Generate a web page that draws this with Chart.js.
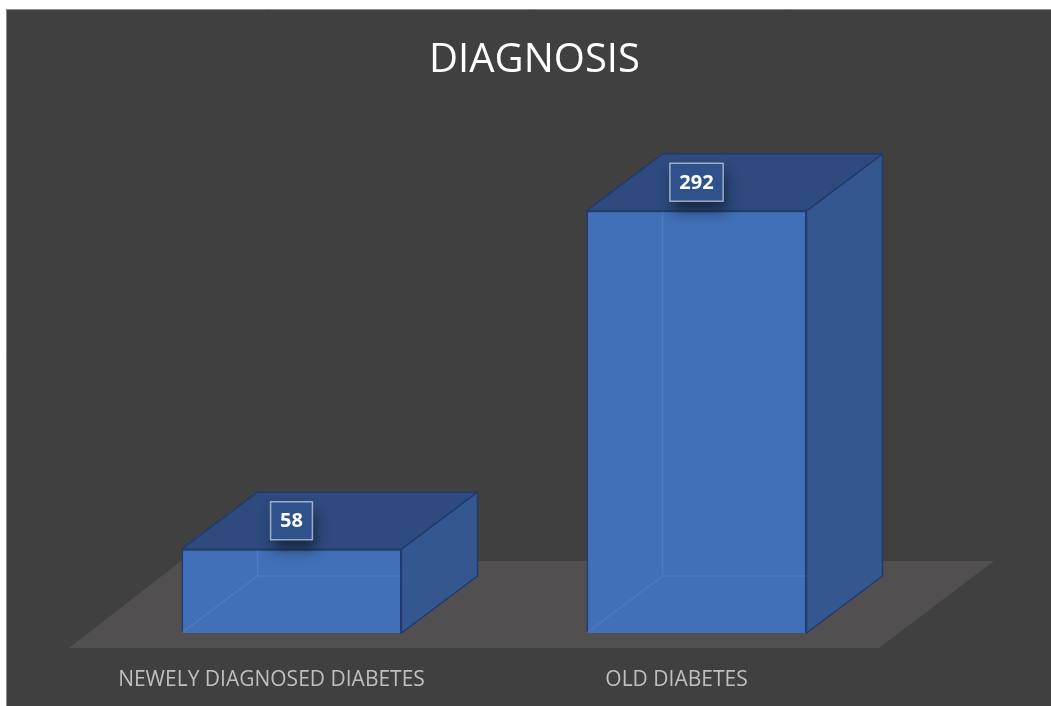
<!DOCTYPE html>
<html>
<head>
<meta charset="utf-8">
<script src="https://cdn.jsdelivr.net/npm/chart.js@4.4.1/dist/chart.umd.min.js"></script>
<style>
  html, body { margin: 0; padding: 0; background: #ffffff; }
  #wrap { width: 1051px; height: 706px; }
</style>
</head>
<body>
<div id="wrap"><canvas id="chart" width="1051" height="706"></canvas></div>
<script>
// data
const categories = ["NEWELY DIAGNOSED DIABETES", "OLD DIABETES"];
const counts = [58, 292];
const chartTitle = "DIAGNOSIS";

// 3d look (pixels)
const DEPTH = { x: 76, y: -57 };   // box depth
const SHIFT = { x: 20, y: -15 };   // boxes sit a bit behind the floor front edge
const FLOOR = { x: 113, y: -87 };  // floor depth

const threeD = {
  id: "threeD",
  beforeDraw(chart) {
    const ctx = chart.ctx;
    ctx.save();
    ctx.fillStyle = "#ffffff";
    ctx.fillRect(0, 0, chart.width, chart.height);
    ctx.fillStyle = "#404040";
    ctx.fillRect(6, 9, chart.width - 6, chart.height - 9);
    ctx.strokeStyle = "#8c8c8c";
    ctx.lineWidth = 1;
    ctx.beginPath();
    ctx.moveTo(6.5, chart.height);
    ctx.lineTo(6.5, 9.5);
    ctx.lineTo(chart.width, 9.5);
    ctx.stroke();
    ctx.restore();
  },
  beforeDatasetsDraw(chart) {
    const ctx = chart.ctx;
    const a = chart.chartArea;
    // floor
    ctx.save();
    ctx.fillStyle = "#514f4f";
    ctx.beginPath();
    ctx.moveTo(a.left, a.bottom);
    ctx.lineTo(a.right, a.bottom);
    ctx.lineTo(a.right + FLOOR.x + 2, a.bottom + FLOOR.y);
    ctx.lineTo(a.left + FLOOR.x - 1, a.bottom + FLOOR.y);
    ctx.closePath();
    ctx.fill();
    ctx.restore();
    ctx.save();
    ctx.translate(SHIFT.x, SHIFT.y);
  },
  afterDatasetsDraw(chart) {
    const ctx = chart.ctx;
    const meta = chart.getDatasetMeta(0);
    meta.data.forEach((bar, i) => {
      const l = bar.x - bar.width / 2, r = bar.x + bar.width / 2;
      const t = bar.y, b = bar.base;
      const dx = DEPTH.x, dy = DEPTH.y;

      // hidden edges seen through the front
      ctx.strokeStyle = "rgba(110,150,215,0.25)";
      ctx.lineWidth = 1.5;
      ctx.beginPath();
      ctx.moveTo(l, b);
      ctx.lineTo(l + dx, b + dy);
      ctx.lineTo(r, b + dy);
      ctx.moveTo(l + dx, b + dy);
      ctx.lineTo(l + dx, t);
      ctx.stroke();

      ctx.strokeStyle = "#203c6e";
      ctx.lineWidth = 1.5;
      ctx.lineJoin = "round";
      // side face
      ctx.fillStyle = "#35578f";
      ctx.beginPath();
      ctx.moveTo(r, t);
      ctx.lineTo(r + dx, t + dy);
      ctx.lineTo(r + dx, b + dy);
      ctx.lineTo(r, b);
      ctx.closePath();
      ctx.fill();
      ctx.stroke();
      // top face
      ctx.fillStyle = "#2e4a7e";
      ctx.beginPath();
      ctx.moveTo(l, t);
      ctx.lineTo(r, t);
      ctx.lineTo(r + dx, t + dy);
      ctx.lineTo(l + dx, t + dy);
      ctx.closePath();
      ctx.fill();
      ctx.stroke();

      // value label
      const txt = String(counts[i]);
      ctx.font = "bold 20px 'Open Sans'";
      const w = ctx.measureText(txt).width + 19;
      const h = 38;
      const cx = bar.x, cy = t + dy / 2;
      ctx.save();
      ctx.shadowColor = "rgba(0,0,0,0.45)";
      ctx.shadowBlur = 14;
      ctx.shadowOffsetX = 3;
      ctx.shadowOffsetY = 10;
      ctx.fillStyle = "#30528c";
      ctx.fillRect(cx - w / 2, cy - h / 2, w, h);
      ctx.restore();
      ctx.strokeStyle = "rgba(255,255,255,0.55)";
      ctx.lineWidth = 1.5;
      ctx.strokeRect(cx - w / 2, cy - h / 2, w, h);
      ctx.fillStyle = "#ffffff";
      ctx.textAlign = "center";
      ctx.textBaseline = "middle";
      ctx.fillText(txt, cx, cy + 1);
    });
    ctx.restore();
  }
};

const config = {
  type: "bar",
  data: {
    labels: categories,
    datasets: [{
      data: counts,
      backgroundColor: "#4170b8",
      borderColor: "#203c6e",
      borderWidth: 1.5,
      categoryPercentage: 1,
      barPercentage: 0.543,
      clip: false
    }]
  },
  options: {
    responsive: false,
    animation: false,
    layout: { padding: { left: 18, right: 0, top: 10, bottom: 15 } },
    plugins: {
      legend: { display: false },
      tooltip: { enabled: false },
      title: {
        display: true,
        text: chartTitle,
        color: "#ffffff",
        font: { family: "'Open Sans'", size: 40, weight: "normal", lineHeight: 1.2 },
        padding: { top: 27, bottom: 57 }
      }
    },
    scales: {
      x: {
        grid: { display: false, drawTicks: false },
        border: { display: false },
        ticks: {
          color: "#bfbfbf",
          padding: 19,
          maxRotation: 0,
          font: { family: "'Open Sans'", size: 21, lineHeight: 1.2 }
        },
        afterFit(axis) { axis.height = 43; }
      },
      y: {
        min: 0,
        max: 350,
        grid: { display: false },
        border: { display: false },
        ticks: { display: false },
        afterFit(axis) { axis.width = 51; }
      },
      y2: {
        type: "linear",
        position: "right",
        grid: { display: false },
        border: { display: false },
        ticks: { display: false },
        afterFit(axis) { axis.width = 172; }
      }
    }
  },
  plugins: [threeD]
};

new Chart(document.getElementById("chart"), config);
</script>
</body>
</html>
